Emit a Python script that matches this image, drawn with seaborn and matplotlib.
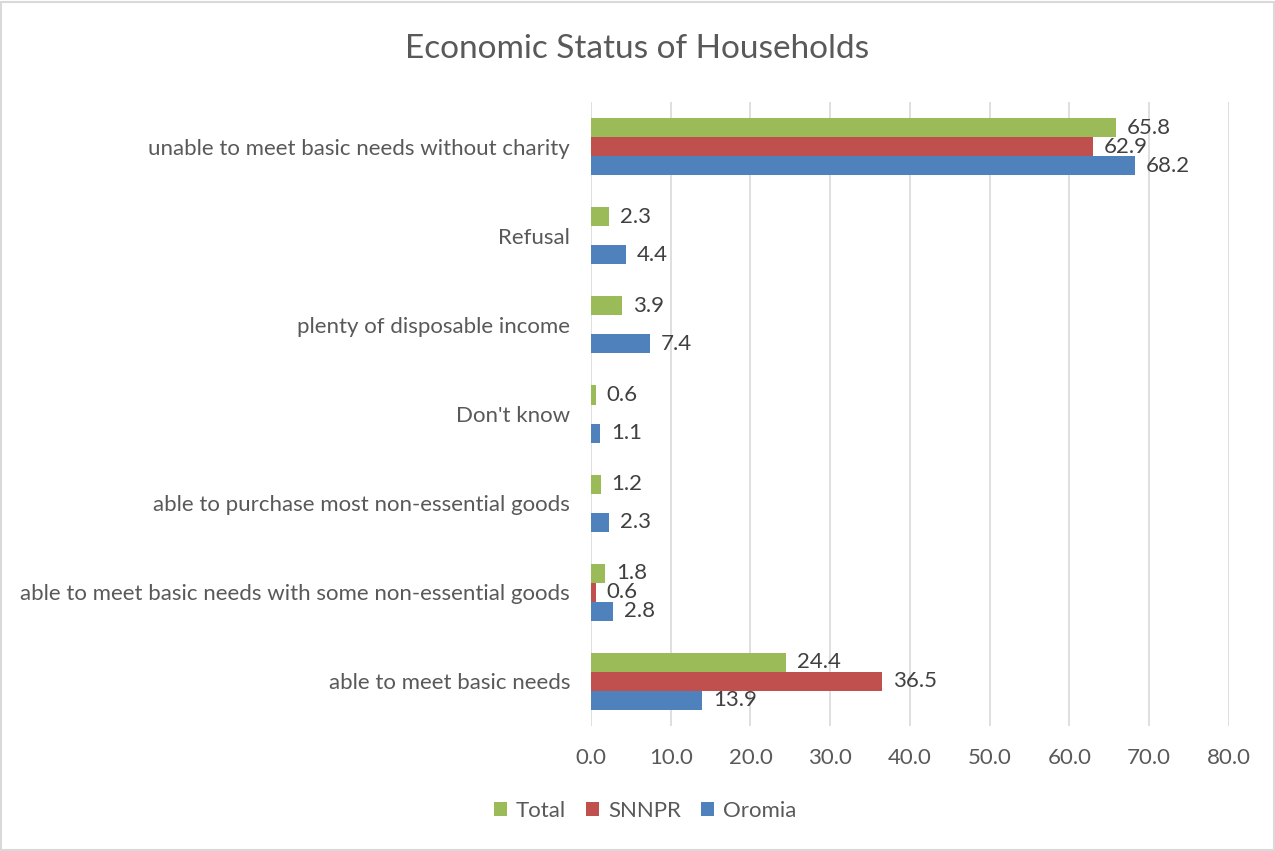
import matplotlib
matplotlib.use("Agg")
import matplotlib.pyplot as plt
import numpy as np
import pandas as pd
import seaborn as sns
from matplotlib.patches import Rectangle

categories = [
    "unable to meet basic needs without charity",
    "Refusal",
    "plenty of disposable income",
    "Don't know",
    "able to purchase most non-essential goods",
    "able to meet basic needs with some non-essential goods",
    "able to meet basic needs",
]
total = [65.8, 2.3, 3.9, 0.6, 1.2, 1.8, 24.4]
snnpr = [62.9, np.nan, np.nan, np.nan, np.nan, 0.6, 36.5]
oromia = [68.2, 4.4, 7.4, 1.1, 2.3, 2.8, 13.9]
series = ["Total", "SNNPR", "Oromia"]
colors = ["#9BBB59", "#C0504D", "#4F81BD"]
x_ticks = [0, 10, 20, 30, 40, 50, 60, 70, 80]

df = pd.DataFrame({"category": categories, "Total": total,
                   "SNNPR": snnpr, "Oromia": oromia})
long = df.melt(id_vars="category", var_name="region", value_name="pct")

sns.set_style("white")
plt.rcParams["font.family"] = ["Lato", "DejaVu Sans"]
text_color = "#595959"
grid_color = "#D9D9D9"

fig = plt.figure(figsize=(12.75, 8.51), dpi=100)
ax = fig.add_axes([0.4635, 0.147, 0.5004, 0.733])

sns.barplot(data=long, y="category", x="pct", hue="region",
            order=categories, hue_order=series, palette=colors,
            orient="h", width=0.64, linewidth=0, saturation=1,
            errorbar=None, ax=ax)

for cont in ax.containers:
    ax.bar_label(cont, fmt="%.1f", padding=8, fontsize=16, color="#404040")

ax.set_xlim(0, 80)
ax.set_xticks(x_ticks)
ax.set_xticklabels([f"{t:.1f}" for t in x_ticks])
ax.xaxis.grid(True, color=grid_color, linewidth=1.2)
ax.set_axisbelow(True)
for s in ax.spines.values():
    s.set_visible(False)
ax.set_xlabel("")
ax.set_ylabel("")
ax.tick_params(axis="x", length=0, pad=16, labelsize=16, labelcolor=text_color)
ax.tick_params(axis="y", length=0, pad=15, labelsize=16, labelcolor=text_color)

handles, labels = ax.get_legend_handles_labels()
ax.get_legend().remove()
fig.legend(handles, labels, loc="center", bbox_to_anchor=(0.506, 0.047),
           ncol=3, frameon=False, fontsize=16, labelcolor=text_color,
           handlelength=0.6, handleheight=0.6, handletextpad=0.4,
           columnspacing=0.9)

fig.suptitle("Economic Status of Households", x=0.5, y=0.96,
             fontsize=24, color=text_color)

fig.patches.append(Rectangle((0.001, 0.001), 0.998, 0.997, transform=fig.transFigure,
                             fill=False, edgecolor=grid_color, linewidth=1.5))

fig.savefig("out.png", dpi=100)
